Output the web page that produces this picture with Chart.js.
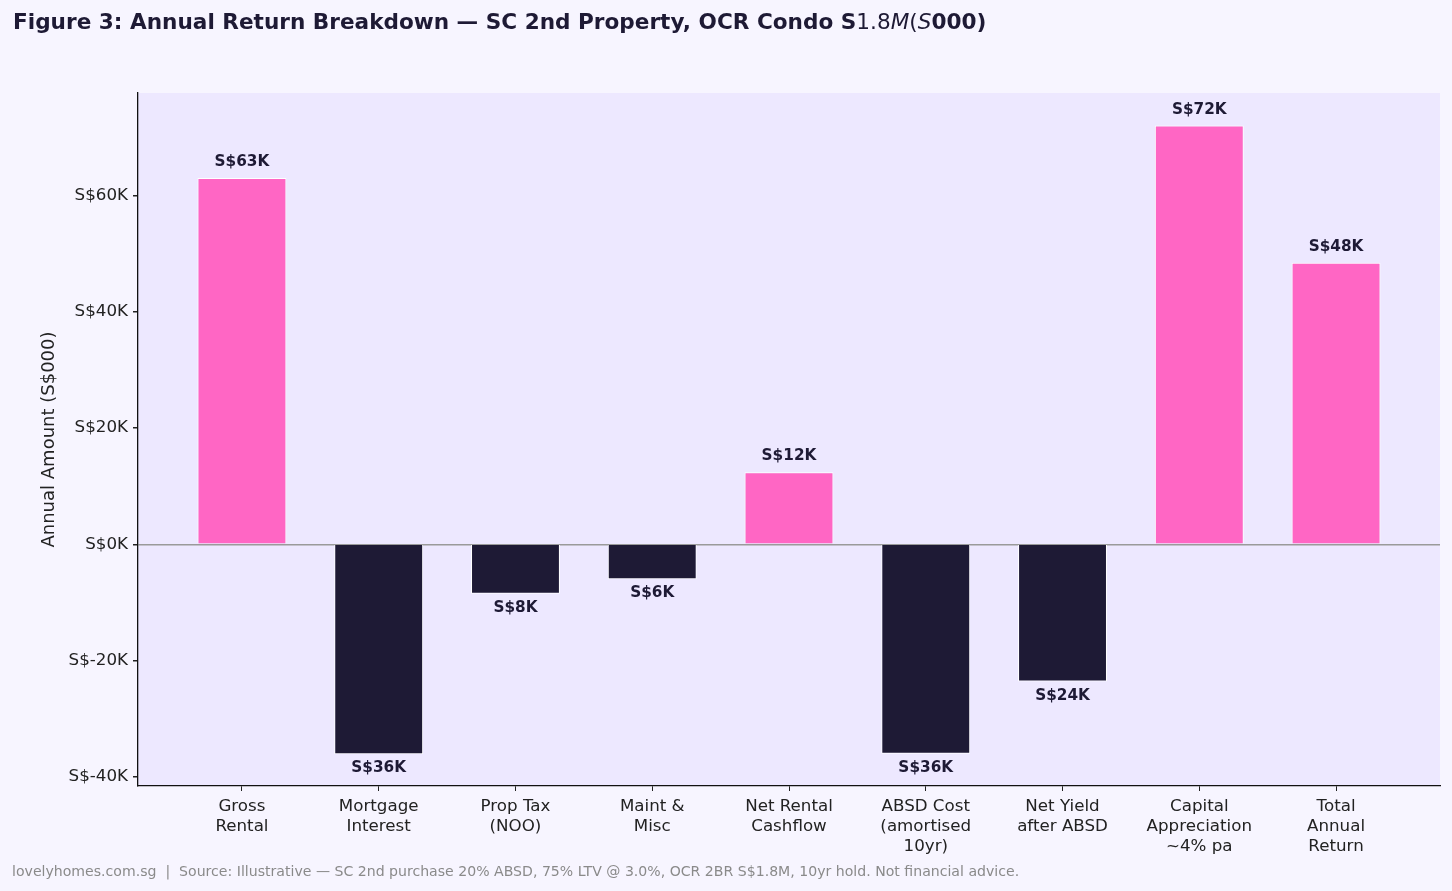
<!DOCTYPE html>
<html>
<head>
<meta charset="utf-8">
<script src="https://cdn.jsdelivr.net/npm/chart.js@4"></script>
<style>
  html, body { margin: 0; padding: 0; background: #F7F5FF; }
  #wrap { position: relative; width: 1452px; height: 891px; font-family: "DejaVu Sans", sans-serif; }
  #title { position: absolute; left: 13px; top: 10px; font-size: 21.6px; font-weight: bold; color: #1E1A35; white-space: nowrap; line-height: 24px; }
  #title .m { font-weight: normal; }
  #title .i { font-style: italic; font-weight: normal; }
  #note { position: absolute; left: 12px; top: 862px; font-size: 14.1px; color: #8a8a8a; white-space: nowrap; line-height: 18px; }
  canvas { position: absolute; left: 0; top: 0; }
</style>
</head>
<body>
<div id="wrap">
  <canvas id="chart" width="1452" height="891"></canvas>
  <div id="title">Figure 3: Annual Return Breakdown — SC 2nd Property, OCR Condo S<span class="m">1.8</span><span class="i">M</span><span class="m">(</span><span class="i">S</span>000)</div>
  <div id="note">lovelyhomes.com.sg &nbsp;|&nbsp; Source: Illustrative — SC 2nd purchase 20% ABSD, 75% LTV @ 3.0%, OCR 2BR S$1.8M, 10yr hold. Not financial advice.</div>
</div>
<script>
// Annual return breakdown, values in S$000
const categories = [
    ['Gross', 'Rental'],
    ['Mortgage', 'Interest'],
    ['Prop Tax', '(NOO)'],
    ['Maint &', 'Misc'],
    ['Net Rental', 'Cashflow'],
    ['ABSD Cost', '(amortised', '10yr)'],
    ['Net Yield', 'after ABSD'],
    ['Capital', 'Appreciation', '~4% pa'],
    ['Total', 'Annual', 'Return']
];
const amounts = [63, -36.1, -8.5, -6, 12.4, -36, -23.6, 72, 48.4];
const barLabels = ['S$63K', 'S$36K', 'S$8K', 'S$6K', 'S$12K', 'S$36K', 'S$24K', 'S$72K', 'S$48K'];
const yTicks = [-40, -20, 0, 20, 40, 60];

const PINK = '#FF66C4';
const NAVY = '#1E1A35';
const FONT = '"DejaVu Sans", sans-serif';

// plot area background
const plotBg = {
    id: 'plotBg',
    beforeDraw(chart) {
        const { ctx, chartArea: a } = chart;
        ctx.save();
        ctx.fillStyle = '#EDE8FF';
        ctx.fillRect(a.left, a.top, a.right - a.left, a.bottom - a.top);
        ctx.restore();
    }
};

// value labels above / below each bar
const valueLabels = {
    id: 'valueLabels',
    afterDatasetsDraw(chart) {
        const { ctx } = chart;
        const meta = chart.getDatasetMeta(0);
        ctx.save();
        ctx.font = 'bold 15.3px ' + FONT;
        ctx.fillStyle = NAVY;
        ctx.textAlign = 'center';
        ctx.textBaseline = 'middle';
        meta.data.forEach((bar, i) => {
            const y = amounts[i] >= 0 ? bar.y - 16 : bar.y + 14;
            ctx.fillText(barLabels[i], bar.x, y);
        });
        ctx.restore();
    }
};

new Chart(document.getElementById('chart'), {
    type: 'bar',
    data: {
        datasets: [{
            data: amounts.map((v, i) => ({ x: i, y: v })),
            backgroundColor: amounts.map(v => v >= 0 ? PINK : NAVY),
            borderColor: '#ffffff',
            borderWidth: 1,
            borderSkipped: 'start',
            barPercentage: 0.65,
            categoryPercentage: 1.0
        }]
    },
    options: {
        responsive: false,
        animation: false,
        layout: { padding: { top: 93, right: 12, left: 0, bottom: 0 } },
        plugins: {
            legend: { display: false },
            tooltip: { enabled: false }
        },
        scales: {
            x: {
                type: 'linear',
                offset: false,
                min: -0.76,
                max: 8.76,
                afterBuildTicks: scale => { scale.ticks = categories.map((c, i) => ({ value: i })); },
                afterFit: scale => { scale.height = 105; },
                ticks: {
                    autoSkip: false,
                    maxRotation: 0,
                    padding: 5,
                    color: '#222',
                    font: { family: FONT, size: 16.7, lineHeight: 1.22 },
                    callback: v => categories[v]
                },
                grid: { offset: false, drawOnChartArea: false, drawTicks: true, tickLength: 5, tickColor: '#222', color: '#222' },
                border: { display: true, color: '#111', width: 1.3 }
            },
            y: {
                min: -41.55,
                max: 77.6,
                afterBuildTicks: scale => { scale.ticks = yTicks.map(v => ({ value: v })); },
                afterFit: scale => { scale.width = 138; },
                ticks: {
                    padding: 5,
                    color: '#222',
                    font: { family: FONT, size: 16.7 },
                    callback: v => 'S$' + v + 'K'
                },
                grid: {
                    drawTicks: true,
                    tickLength: 5,
                    tickColor: '#222',
                    lineWidth: 1.5,
                    color: ctx => (ctx.tick && ctx.tick.value === 0) ? '#9a9a9a' : 'rgba(0,0,0,0)'
                },
                border: { display: true, color: '#111', width: 1.3 },
                title: {
                    display: true,
                    text: 'Annual Amount (S$000)',
                    color: '#222',
                    font: { family: FONT, size: 18 },
                    padding: { top: 39, bottom: 0 }
                }
            }
        }
    },
    plugins: [plotBg, valueLabels]
});
</script>
</body>
</html>
